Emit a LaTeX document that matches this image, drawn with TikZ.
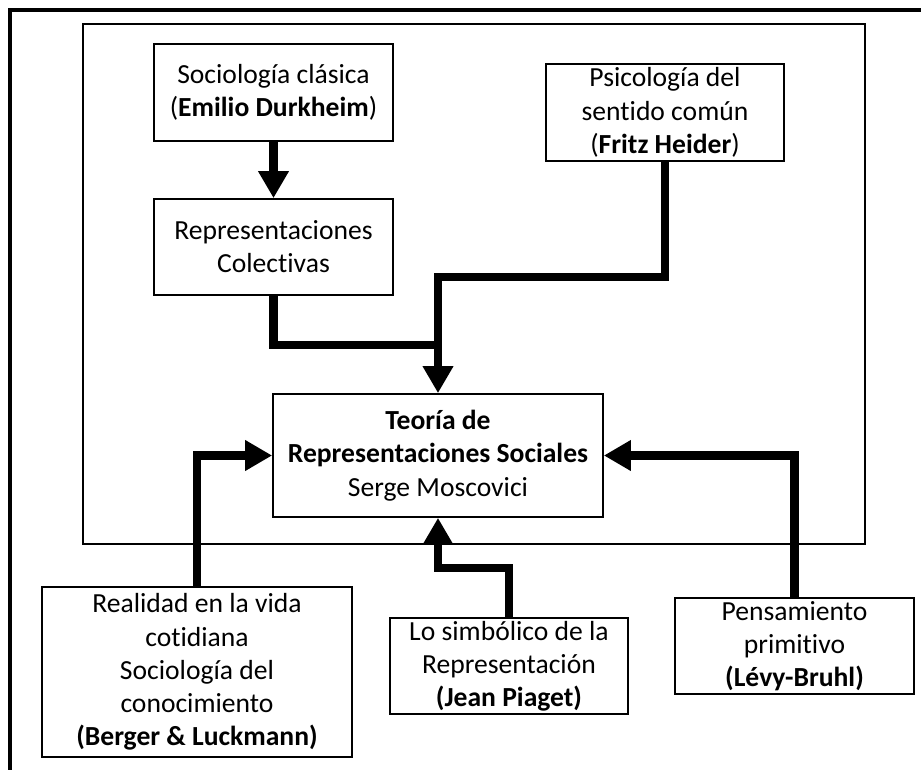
\documentclass[tikz,border=0pt]{standalone}
\usepackage{fontspec}
\setmainfont[Ligatures=NoCommon]{Carlito}
\usepackage{tikz}
\usetikzlibrary{arrows.meta}
\tikzstyle{caja}=[draw, line width=0.85pt, align=center, inner sep=0pt, font=\fontsize{13.8}{16.6}\selectfont]
\tikzstyle{flujo}=[line width=4.3pt, -{Triangle[length=13.5pt,width=14.5pt]}]
\tikzstyle{union}=[line width=4.3pt]

\begin{document}
\begin{tikzpicture}[x=0.5pt,y=-0.5pt]
\useasboundingbox (0,0) rectangle (921,770);
\draw[line width=1.6pt] (10,770) -- (10,10) -- (921,10);
\draw[line width=1pt] (83,24) rectangle (865,544);
\node[caja, minimum width=119.5pt, minimum height=48.5pt] (durk) at (273.5,92.5) {Sociología clásica\\(\textbf{Emilio Durkheim})};
\node[caja, minimum width=119.5pt, minimum height=48pt] (colect) at (273.5,247) {Representaciones\\Colectivas};
\node[caja, minimum width=119pt, minimum height=48.5pt] (heider) at (665,112.5) {Psicología del\\sentido común\\(\textbf{Fritz Heider})};
\node[caja, minimum width=165pt, minimum height=61.5pt] (teoria) at (438,455.5) {\textbf{Teoría de}\\\textbf{Representaciones Sociales}\\Serge Moscovici};
\node[caja, minimum width=155pt, minimum height=85pt] (berger) at (197,672) {Realidad en la vida\\cotidiana\\Sociología del\\conocimiento\\\textbf{(Berger \& Luckmann)}};
\node[caja, minimum width=119pt, minimum height=48pt] (piaget) at (509,666) {Lo simbólico de la\\Representación\\\textbf{(Jean Piaget)}};
\node[caja, minimum width=119.5pt, minimum height=48pt] (levy) at (794.5,646) {Pensamiento\\primitivo\\\textbf{(Lévy-Bruhl)}};
\coordinate (cj) at (438,345);
\coordinate (hj) at (438,277);
\coordinate (pj) at (438,568);
\draw[flujo] (durk) -- (colect);
\draw[union] (colect.south) |- (cj);
\draw[flujo] (heider.south) |- (hj) -- (teoria.north);
\draw[flujo] (berger.north) |- (teoria.west);
\draw[flujo] (levy.north) |- (teoria.east);
\draw[flujo] (piaget.north) |- (pj) -- (teoria.south);
\end{tikzpicture}
\end{document}
